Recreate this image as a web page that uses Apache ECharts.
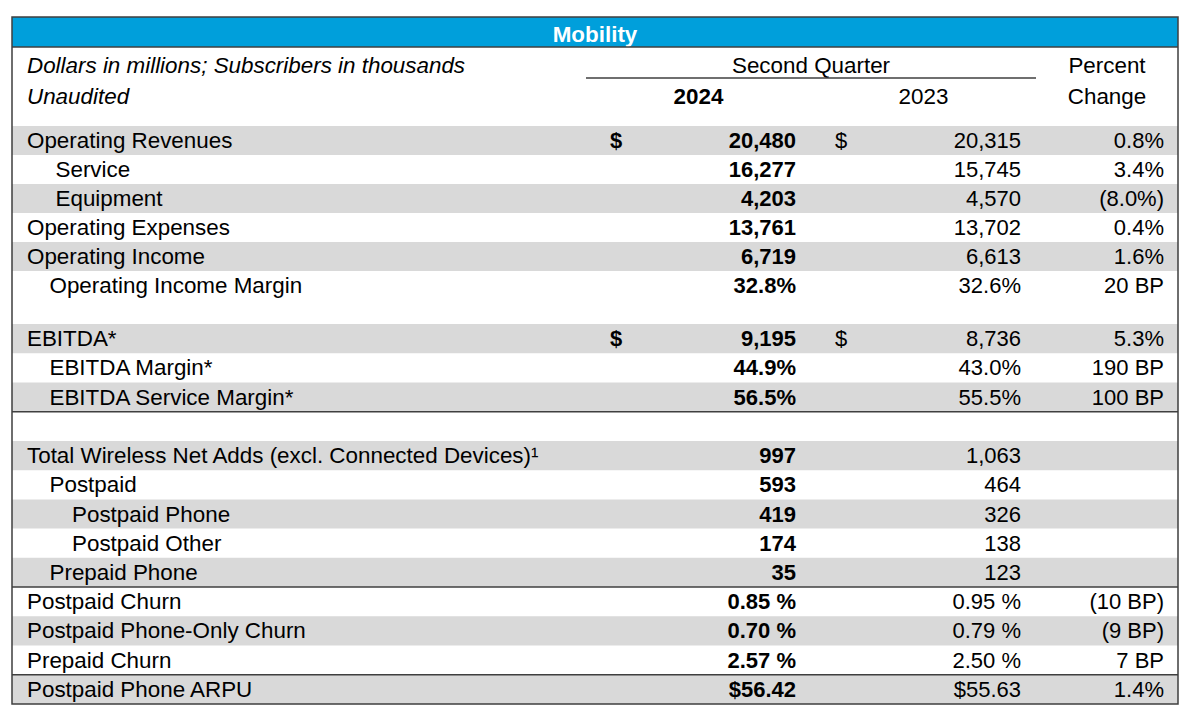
<!DOCTYPE html>
<html>
<head>
<meta charset="utf-8">
<script src="https://cdn.jsdelivr.net/npm/echarts@6/dist/echarts.min.js"></script>
<style>
html,body{margin:0;padding:0;background:#fff;}
#chart{width:1195px;height:710px;}
</style>
</head>
<body>
<div id="chart"></div>
<script>
// ---------------- DATA ----------------
const title = 'Mobility';
const headerNote = ['Dollars in millions; Subscribers in thousands', 'Unaudited'];
const periodLabel = 'Second Quarter';
const yearLabels = ['2024', '2023'];
const changeLabel = ['Percent', 'Change'];

// Section 1: income statement items
const labelsA = ['Operating Revenues', 'Service', 'Equipment', 'Operating Expenses', 'Operating Income', 'Operating Income Margin'];
const indentA = [0, 2, 2, 0, 0, 1];
const formatA = ['usd', 'num', 'num', 'num', 'num', 'pct'];
const value2024A = [20480, 16277, 4203, 13761, 6719, 32.8];
const value2023A = [20315, 15745, 4570, 13702, 6613, 32.6];
const changeA = [0.8, 3.4, -8.0, 0.4, 1.6, 20];
const changeTypeA = ['pct', 'pct', 'pct', 'pct', 'pct', 'bp'];

// Section 2: EBITDA and subscriber metrics
const labelsB = ['EBITDA*', 'EBITDA Margin*', 'EBITDA Service Margin*', '',
  'Total Wireless Net Adds (excl. Connected Devices)\u00B9', 'Postpaid', 'Postpaid Phone', 'Postpaid Other', 'Prepaid Phone',
  'Postpaid Churn', 'Postpaid Phone-Only Churn', 'Prepaid Churn', 'Postpaid Phone ARPU'];
const indentB = [0, 1, 1, 0, 0, 1, 3, 3, 1, 0, 0, 0, 0];
const formatB = ['usd', 'pct', 'pct', '', 'num', 'num', 'num', 'num', 'num', 'pctS', 'pctS', 'pctS', 'arpu'];
const value2024B = [9195, 44.9, 56.5, null, 997, 593, 419, 174, 35, 0.85, 0.70, 2.57, 56.42];
const value2023B = [8736, 43.0, 55.5, null, 1063, 464, 326, 138, 123, 0.95, 0.79, 2.50, 55.63];
const changeB = [5.3, 190, 100, null, null, null, null, null, null, -10, -9, 7, 1.4];
const changeTypeB = ['pct', 'bp', 'bp', '', '', '', '', '', '', 'bp', 'bp', 'bp', 'pct'];
const rulesAfterB = ['EBITDA Service Margin*', 'Prepaid Phone', 'Prepaid Churn'];

// ---------------- LAYOUT / STYLE ----------------
const FF = '"Liberation Sans", Arial, Helvetica, sans-serif';
const FS = 22;      // numbers
const FT = 22.4;    // words
const fontR = FS + 'px ' + FF;
const fontB = 'bold ' + FS + 'px ' + FF;
const fontTR = FT + 'px ' + FF;
const fontTB = 'bold ' + FT + 'px ' + FF;
const fontTI = 'italic ' + FT + 'px ' + FF;
const T = { left: 12, right: 1178, top: 17, bottom: 704, blueBottom: 47 };
const COL = { c1: 586, c2: 811, c3: 1036 };
const indentPx = [0, 22.5, 28.5, 45];
const BORDER = '#3f3f3f';
const BAND = '#d9d9d9';
const BLUE = '#009FDB';

// ---------------- FORMATTERS ----------------
function commas(n) {
  const s = String(Math.round(Math.abs(n)));
  return (n < 0 ? '-' : '') + s.replace(/\B(?=(\d{3})+(?!\d))/g, ',');
}
function fmtVal(v, f) {
  if (v === null || v === undefined) return '';
  if (f === 'usd' || f === 'num') return commas(v);
  if (f === 'pct') return v.toFixed(1) + '%';
  if (f === 'pctS') return v.toFixed(2) + ' %';
  if (f === 'arpu') return '$' + v.toFixed(2);
  return String(v);
}
function fmtChg(v, t) {
  if (v === null || v === undefined) return '';
  let s = t === 'bp' ? Math.abs(v) + ' BP' : Math.abs(v).toFixed(1) + '%';
  return v < 0 ? '(' + s + ')' : s;
}

function txt(x, y, text, font, align, fill) {
  return {
    type: 'text', x: x, y: y, z2: 10,
    style: {
      text: text, font: font, fill: fill || '#000',
      align: align, verticalAlign: 'middle',
      textAlign: align, textVerticalAlign: 'middle'
    }
  };
}

function makeRender(sec) {
  return function (params, api) {
    const i = api.value(0);
    const cs = params.coordSys;
    const yc = api.coord([0, i])[1];
    const h = api.size([0, 1])[1];
    const x0 = cs.x, x1 = cs.x + cs.width;
    const ch = [];
    if (i % 2 === 0) {
      ch.push({ type: 'rect', z2: 0, shape: { x: x0, y: yc - h / 2, width: x1 - x0, height: h }, style: { fill: BAND } });
    }
    const lab = sec.labels[i];
    if (lab) {
      ch.push(txt(x0 + 15 + indentPx[sec.indent[i]], yc, lab, fontTR, 'left'));
      if (sec.format[i] === 'usd') {
        ch.push(txt(COL.c1 + 24, yc, '$', fontB, 'left'));
        ch.push(txt(COL.c2 + 24, yc, '$', fontR, 'left'));
      }
      ch.push(txt(COL.c2 - 15, yc, fmtVal(sec.v24[i], sec.format[i]), fontB, 'right'));
      ch.push(txt(COL.c3 - 15, yc, fmtVal(sec.v23[i], sec.format[i]), fontR, 'right'));
      ch.push(txt(x1 - 14, yc, fmtChg(sec.chg[i], sec.chgType[i]), fontR, 'right'));
    }
    if (sec.rules && sec.rules.indexOf(lab) >= 0) {
      ch.push({ type: 'line', z2: 20, shape: { x1: x0, y1: yc + h / 2, x2: x1, y2: yc + h / 2 }, style: { stroke: BORDER, lineWidth: 1.5 } });
    }
    return { type: 'group', children: ch };
  };
}

const secA = { labels: labelsA, indent: indentA, format: formatA, v24: value2024A, v23: value2023A, chg: changeA, chgType: changeTypeA };
const secB = { labels: labelsB, indent: indentB, format: formatB, v24: value2024B, v23: value2023B, chg: changeB, chgType: changeTypeB, rules: rulesAfterB };

function hdr(x, y, text, font, align, fill) {
  return { type: 'text', z: 60, x: x, y: y, style: { text: text, font: font, fill: fill || '#000', align: align, verticalAlign: 'middle', textAlign: align, textVerticalAlign: 'middle' } };
}

const chart = echarts.init(document.getElementById('chart'), null, { renderer: 'svg' });
const option = {
  animation: false,
  backgroundColor: '#ffffff',
  grid: [
    { left: T.left, right: 1195 - T.right, top: 126, height: 174 },
    { left: T.left, right: 1195 - T.right, top: 324, height: 380 }
  ],
  xAxis: [
    { type: 'value', gridIndex: 0, min: 0, max: 1, show: false },
    { type: 'value', gridIndex: 1, min: 0, max: 1, show: false }
  ],
  yAxis: [
    { type: 'category', gridIndex: 0, data: labelsA, inverse: true, show: false },
    { type: 'category', gridIndex: 1, data: labelsB, inverse: true, show: false }
  ],
  series: [
    { type: 'custom', xAxisIndex: 0, yAxisIndex: 0, renderItem: makeRender(secA), data: labelsA.map((_, i) => [i]), encode: { y: 0 }, silent: true },
    { type: 'custom', xAxisIndex: 1, yAxisIndex: 1, renderItem: makeRender(secB), data: labelsB.map((_, i) => [i]), encode: { y: 0 }, silent: true }
  ],
  graphic: [
    { type: 'rect', z: 50, shape: { x: T.left, y: T.top, width: T.right - T.left, height: T.blueBottom - T.top }, style: { fill: BLUE } },
    hdr((T.left + T.right) / 2, 34, title, fontTB, 'center', '#fff'),
    { type: 'line', z: 60, shape: { x1: T.left, y1: T.blueBottom, x2: T.right, y2: T.blueBottom }, style: { stroke: BORDER, lineWidth: 1.5 } },
    hdr(T.left + 15, 65, headerNote[0], fontTI, 'left'),
    hdr(T.left + 15, 96, headerNote[1], fontTI, 'left'),
    hdr((COL.c1 + COL.c3) / 2, 65, periodLabel, fontTR, 'center'),
    { type: 'line', z: 60, shape: { x1: COL.c1, y1: 78, x2: COL.c3, y2: 78 }, style: { stroke: BORDER, lineWidth: 1.5 } },
    hdr((COL.c1 + COL.c2) / 2, 96, yearLabels[0], fontTB, 'center'),
    hdr((COL.c2 + COL.c3) / 2, 96, yearLabels[1], fontTR, 'center'),
    hdr((COL.c3 + T.right) / 2, 65, changeLabel[0], fontTR, 'center'),
    hdr((COL.c3 + T.right) / 2, 96, changeLabel[1], fontTR, 'center'),
    { type: 'rect', z: 70, shape: { x: T.left, y: T.top, width: T.right - T.left, height: T.bottom - T.top }, style: { fill: 'none', stroke: BORDER, lineWidth: 1.5 } }
  ]
};
chart.setOption(option);
</script>
</body>
</html>
